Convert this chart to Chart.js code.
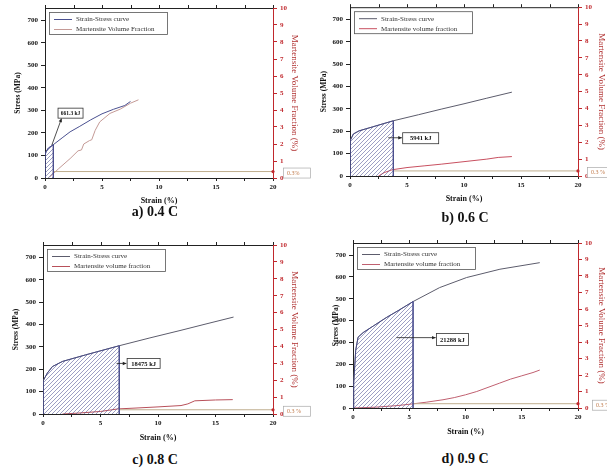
<!DOCTYPE html>
<html>
<head>
<meta charset="utf-8">
<script src="https://cdn.jsdelivr.net/npm/chart.js@4/dist/chart.umd.min.js"></script>
<style>
body { margin: 0; background: #fff; width: 607px; height: 475px; overflow: hidden; position: relative; }
canvas { position: absolute; }
.cap { position: absolute; font: bold 14px "Liberation Serif", serif; color: #111; transform: translate(-50%, -50%); white-space: nowrap; }
</style>
</head>
<body>
<script>
// a) 0.4 C
const strainA = [0, 0, 0.1, 0.3, 0.73, 1.5, 2.2, 3, 4, 5, 6, 7, 7.5];
const stressA = [0, 100, 118, 133, 148, 178, 205, 228, 258, 285, 305, 322, 340];
const mvfStrainA = [0.4, 1.2, 2.2, 2.9, 3.2, 3.4, 3.9, 4.1, 4.4, 4.8, 5.7, 6.6, 7.5, 8.2];
const mvfA = [0.05, 0.55, 1.14, 1.6, 1.65, 2.0, 2.2, 2.25, 2.8, 3.3, 3.8, 4.05, 4.4, 4.6];
const hatchEndA = 0.73;

// b) 0.6 C
const strainB = [0, 0.03, 0.3, 0.8, 2, 3.8, 6, 8, 10, 12, 14.2];
const stressB = [0, 160, 188, 202, 220, 247, 274, 299, 323, 348, 375];
const mvfStrainB = [2.5, 3, 3.7, 5, 6.5, 8, 10, 12, 13, 14.2];
const mvfB = [0, 0.2, 0.37, 0.5, 0.6, 0.7, 0.85, 1.0, 1.1, 1.15];
const hatchEndB = 3.8;

// c) 0.8 C
const strainC = [0, 0.03, 0.38, 0.82, 1.7, 3.7, 6.63, 9.3, 12, 14, 16.57];
const stressC = [0, 150, 183, 212, 235, 264, 305, 340, 374, 400, 433];
const mvfStrainC = [1.7, 3, 5, 6.5, 8, 10, 12, 12.6, 13.2, 15, 16.5];
const mvfC = [0, 0.05, 0.15, 0.3, 0.35, 0.42, 0.5, 0.6, 0.78, 0.83, 0.85];
const hatchEndC = 6.63;

// d) 0.9 C
const strainD = [0, 0.06, 0.24, 0.45, 0.9, 1.8, 3, 4, 5.34, 7.7, 10.1, 13.06, 16.6];
const stressD = [0, 113, 264, 324, 345, 375, 415, 445, 487, 551, 597, 635, 665];
const mvfStrainD = [0, 2, 4, 5.3, 6.5, 8, 9, 10, 11, 12, 13, 14, 15, 16, 16.6];
const mvfD = [0, 0.05, 0.15, 0.25, 0.35, 0.5, 0.63, 0.8, 1.0, 1.25, 1.5, 1.75, 1.95, 2.15, 2.3];
const hatchEndD = 5.34;

const thresholds = [0.38, 0.3, 0.25, 0.26];
const thresholdLabels = ['0.3%', '0.3 %', '0.3 %', '0.3 %'];
const energyLabels = ['661.3 kJ', '5941 kJ', '18475 kJ', '21288 kJ'];
const captions = ['a) 0.4 C', 'b) 0.6 C', 'c) 0.8 C', 'd) 0.9 C'];
const stressLabel = 'Strain-Stress curve';
const mvfLabels = ['Martensite Volume Fraction', 'Martensite volume fraction', 'Martensite volume fraction', 'Martensite volume fraction'];
const xTitle = 'Strain (%)';
const yTitle = 'Stress (MPa)';
const y1Title = 'Martensite Volume Fraction (%)';

const FONT = '"Liberation Serif", "Times New Roman", serif';
const RED = '#c0282d';

function pts(xs, ys) {
    return xs.map((v, i) => ({ x: v, y: ys[i] }));
}

function hatchPattern(color) {
    const c = document.createElement('canvas');
    c.width = 4; c.height = 4;
    const g = c.getContext('2d');
    g.strokeStyle = color;
    g.lineWidth = 0.6;
    g.beginPath();
    g.moveTo(0, 4); g.lineTo(4, 0);
    g.moveTo(-1, 1); g.lineTo(1, -1);
    g.moveTo(3, 5); g.lineTo(5, 3);
    g.stroke();
    return g.createPattern(c, 'repeat');
}

// frame top, legend box, energy box with arrow, 0.3 % tag
const overlay = {
    id: 'overlay',
    afterDraw(chart, args, o) {
        const { ctx, chartArea: a } = chart;
        const x = chart.scales.x, y = chart.scales.y, y1 = chart.scales.y1;
        ctx.save();

        ctx.strokeStyle = '#222';
        ctx.lineWidth = 1;
        ctx.beginPath();
        ctx.moveTo(a.left, a.top + 0.5);
        ctx.lineTo(a.right, a.top + 0.5);
        x.ticks.forEach(t => {
            const px = Math.round(x.getPixelForValue(t.value)) + 0.5;
            ctx.moveTo(px, a.top);
            ctx.lineTo(px, a.top - 3);
        });
        ctx.stroke();

        // legend
        const lx = a.left + 4, ly = a.top + 4, lw = 118, lh = 22;
        ctx.fillStyle = '#fff';
        ctx.fillRect(lx, ly, lw, lh);
        ctx.strokeStyle = '#555';
        ctx.lineWidth = 0.8;
        ctx.strokeRect(lx + 0.5, ly + 0.5, lw, lh);
        ctx.font = '7px ' + FONT;
        ctx.textBaseline = 'middle';
        ctx.textAlign = 'left';
        chart.data.datasets.filter(d => d.inLegend).forEach((d, i) => {
            const yy = ly + 7.5 + i * 10;
            ctx.strokeStyle = d.borderColor;
            ctx.lineWidth = 1;
            ctx.beginPath();
            ctx.moveTo(lx + 5, yy);
            ctx.lineTo(lx + 23, yy);
            ctx.stroke();
            ctx.fillStyle = '#333';
            ctx.fillText(d.label, lx + 27, yy);
        });

        // energy annotation
        const e = o.energy;
        const fx = x.getPixelForValue(e.from[0]), fy = y.getPixelForValue(e.from[1]);
        const tx = x.getPixelForValue(e.to[0]), ty = y.getPixelForValue(e.to[1]);
        ctx.strokeStyle = '#222';
        ctx.fillStyle = '#222';
        ctx.lineWidth = 0.8;
        ctx.beginPath();
        ctx.moveTo(fx, fy);
        ctx.lineTo(tx, ty);
        ctx.stroke();
        const ang = Math.atan2(ty - fy, tx - fx);
        ctx.beginPath();
        ctx.moveTo(tx, ty);
        ctx.lineTo(tx - 4 * Math.cos(ang - 0.45), ty - 4 * Math.sin(ang - 0.45));
        ctx.lineTo(tx - 4 * Math.cos(ang + 0.45), ty - 4 * Math.sin(ang + 0.45));
        ctx.closePath();
        ctx.fill();

        const bx = x.getPixelForValue(e.box[0]), by = y.getPixelForValue(e.box[1]);
        ctx.fillStyle = '#fff';
        ctx.fillRect(bx - e.w / 2, by - e.h / 2, e.w, e.h);
        ctx.strokeStyle = '#333';
        ctx.strokeRect(bx - e.w / 2, by - e.h / 2, e.w, e.h);
        ctx.fillStyle = '#111';
        ctx.font = 'bold ' + e.size + 'px ' + FONT;
        ctx.textAlign = 'center';
        ctx.fillText(e.text, bx, by + 0.5);

        // threshold tag
        const t = o.threshold;
        const yt = y1.getPixelForValue(t.value);
        const tx0 = a.right + t.dx;
        ctx.fillStyle = '#fff';
        ctx.fillRect(tx0, yt - 4, 27, 10);
        ctx.strokeStyle = '#aaa';
        ctx.lineWidth = 0.7;
        ctx.strokeRect(tx0 + 0.5, yt - 4 + 0.5, 27, 10);
        ctx.fillStyle = '#c07a4a';
        ctx.font = '6px ' + FONT;
        ctx.textAlign = 'left';
        ctx.fillText(t.text, tx0 + 4, yt + 1.5);
        ctx.fillStyle = RED;
        ctx.beginPath();
        ctx.arc(a.right, yt, 1.6, 0, Math.PI * 2);
        ctx.fill();

        ctx.restore();
    }
};

const panels = [
    { left: 14, top: 0, w: 298, h: 206, lw: 31, rw: 27, pr: 12, pt: 8, hx: 28,
      strain: strainA, stress: stressA, mvfStrain: mvfStrainA, mvf: mvfA, hatchEnd: hatchEndA,
      stressColor: '#4a5090', mvfColor: '#c49a96', tagDx: 10,
      energy: { box: [2.24, 288], from: [0.6, 146], to: [1.45, 264], w: 25, h: 10, size: 5.5 },
      cap: [155, 212] },
    { left: 320, top: 0, w: 288, h: 204, lw: 30, rw: 29, pr: 1, pt: 7, hx: 28,
      strain: strainB, stress: stressB, mvfStrain: mvfStrainB, mvf: mvfB, hatchEnd: hatchEndB,
      stressColor: '#5c5c6c', mvfColor: '#c85060', tagDx: 9,
      energy: { box: [6.2, 169], from: [3.35, 171], to: [4.55, 171], w: 36, h: 11, size: 6.5 },
      cap: [465, 218] },
    { left: 12, top: 230, w: 300, h: 213, lw: 31, rw: 27, pr: 12, pt: 15, hx: 29,
      strain: strainC, stress: stressC, mvfStrain: mvfStrainC, mvf: mvfC, hatchEnd: hatchEndC,
      stressColor: '#5c5c6c', mvfColor: '#b8505a', tagDx: 10,
      energy: { box: [8.75, 226], from: [6.4, 226], to: [7.25, 226], w: 33, h: 10, size: 6.5 },
      cap: [155, 460] },
    { left: 332, top: 230, w: 276, h: 207, lw: 21, rw: 29, pr: 1, pt: 13, hx: 29,
      strain: strainD, stress: stressD, mvfStrain: mvfStrainD, mvf: mvfD, hatchEnd: hatchEndD,
      stressColor: '#5c5c6c', mvfColor: '#c06070', tagDx: 14,
      energy: { box: [8.84, 313], from: [3.86, 322], to: [7.35, 322], w: 32, h: 12, size: 6.5 },
      cap: [465, 459] }
];

panels.forEach((p, i) => {
    const cv = document.createElement('canvas');
    cv.width = p.w;
    cv.height = p.h;
    cv.style.left = p.left + 'px';
    cv.style.top = p.top + 'px';
    document.body.appendChild(cv);

    const cap = document.createElement('div');
    cap.className = 'cap';
    cap.style.left = p.cap[0] + 'px';
    cap.style.top = p.cap[1] + 'px';
    cap.textContent = captions[i];
    document.body.appendChild(cap);

    const hatchData = pts(p.strain, p.stress).filter(d => d.x <= p.hatchEnd);
    hatchData.push({ x: p.hatchEnd, y: 0 });

    new Chart(cv, {
        type: 'line',
        data: {
            datasets: [
                { label: 'hatch', data: hatchData, yAxisID: 'y', fill: 'origin',
                  backgroundColor: hatchPattern('#5a5e9c'), borderColor: '#44488a', borderWidth: 0.8,
                  pointRadius: 0 },
                { label: 'threshold', data: [{ x: p.hatchEnd, y: thresholds[i] }, { x: 20, y: thresholds[i] }],
                  yAxisID: 'y1', borderColor: '#bfae8e', borderWidth: 1, pointRadius: 0, fill: false },
                { label: stressLabel, data: pts(p.strain, p.stress), yAxisID: 'y', inLegend: true,
                  borderColor: p.stressColor, borderWidth: 1, pointRadius: 0, fill: false },
                { label: mvfLabels[i], data: pts(p.mvfStrain, p.mvf), yAxisID: 'y1', inLegend: true,
                  borderColor: p.mvfColor, borderWidth: 1, pointRadius: 0, fill: false }
            ]
        },
        options: {
            responsive: false,
            animation: false,
            events: [],
            layout: { autoPadding: false, padding: { left: 0, top: p.pt, right: p.pr, bottom: 0 } },
            plugins: {
                legend: { display: false },
                tooltip: { enabled: false },
                overlay: {
                    energy: Object.assign({ text: energyLabels[i] }, p.energy),
                    threshold: { value: thresholds[i], text: thresholdLabels[i], dx: p.tagDx }
                }
            },
            scales: {
                x: {
                    type: 'linear', position: 'bottom', min: 0, max: 20,
                    afterFit: s => { s.height = p.hx; },
                    grid: { drawOnChartArea: false, tickLength: 3, color: '#222' },
                    border: { color: '#222', width: 1 },
                    ticks: { stepSize: 2.5, padding: 2, color: '#111', maxRotation: 0,
                             font: { family: FONT, size: 7, weight: 'bold' },
                             callback: v => (v % 5 === 0 ? v : '') },
                    title: { display: true, text: xTitle, color: '#111', padding: 0,
                             font: { family: FONT, size: 8, weight: 'bold' } }
                },
                y: {
                    type: 'linear', position: 'left', min: 0, max: 755,
                    afterFit: s => { s.width = p.lw; },
                    grid: { drawOnChartArea: false, tickLength: 4, color: '#222' },
                    border: { color: '#222', width: 1 },
                    ticks: { stepSize: 100, includeBounds: false, padding: 3, color: '#111',
                             font: { family: FONT, size: 7, weight: 'bold' } },
                    title: { display: true, text: yTitle, color: '#111', padding: 0,
                             font: { family: FONT, size: 7.5, weight: 'bold' } }
                },
                y1: {
                    type: 'linear', position: 'right', min: 0, max: 10,
                    afterFit: s => { s.width = p.rw; },
                    grid: { drawOnChartArea: false, tickLength: 4, color: RED },
                    border: { color: RED, width: 1 },
                    ticks: { stepSize: 1, padding: 3, color: RED,
                             font: { family: FONT, size: 7, weight: 'bold' } },
                    title: { display: true, text: y1Title, color: '#b03030', padding: 0,
                             font: { family: FONT, size: 9 } }
                }
            }
        },
        plugins: [overlay]
    });
});
</script>
</body>
</html>
